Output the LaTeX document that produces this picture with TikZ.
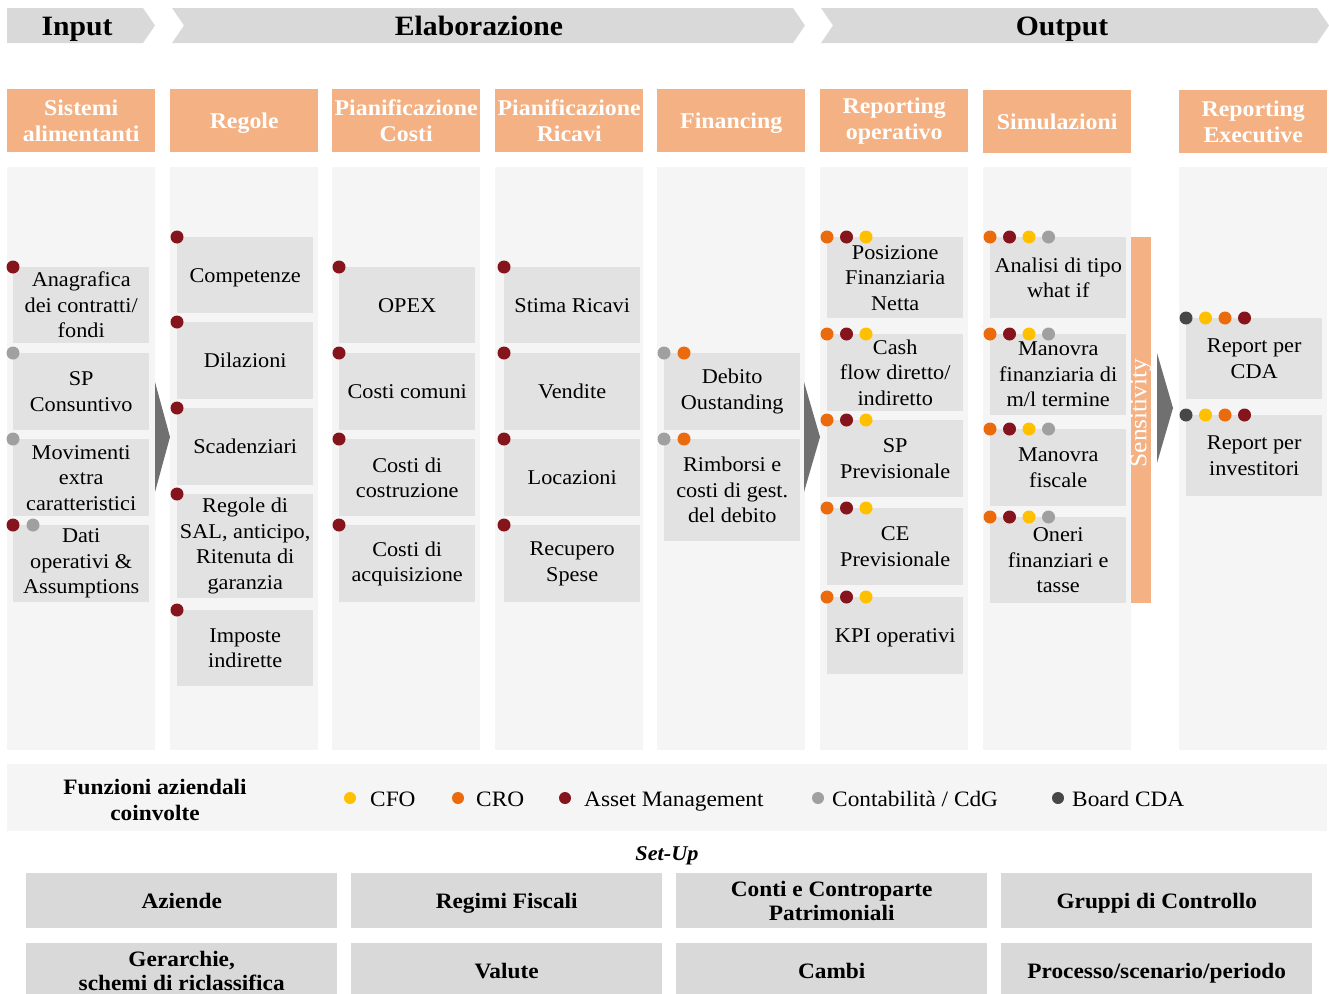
\documentclass[tikz,border=0pt]{standalone}
\usepackage{fontspec}
\setmainfont{Liberation Serif}[FakeStretch=1.06]
\definecolor{banner}{HTML}{D9D9D9}
\definecolor{hdr}{HTML}{F4B183}
\definecolor{colbg}{HTML}{F5F5F5}
\definecolor{itembg}{HTML}{E2E2E2}
\definecolor{maroon}{HTML}{85141C}
\definecolor{orng}{HTML}{EB6A0C}
\definecolor{yell}{HTML}{FFC000}
\definecolor{grey}{HTML}{A0A0A0}
\definecolor{dark}{HTML}{474747}
\definecolor{arrowgrey}{HTML}{707070}
\definecolor{setupbg}{HTML}{D9D9D9}
\tikzset{
  hdrbox/.style={fill=hdr, draw=none, anchor=north west, minimum width=148pt, minimum height=63pt, inner sep=0pt, align=center, text=white, font=\fontsize{22.5}{26}\selectfont\bfseries},
  bodybox/.style={fill=colbg, draw=none, anchor=north west, minimum width=148pt, minimum height=583pt, inner sep=0pt},
  item/.style={fill=itembg, draw=none, anchor=north west, minimum width=136pt, inner sep=0pt, align=center, font=\fontsize{21}{25.5}\selectfont},
  single/.style={text depth=0pt},
  dot/.style={circle, draw=none, minimum size=13pt, inner sep=0pt},
  ldot/.style={circle, draw=none, minimum size=12pt, inner sep=0pt},
  bannertext/.style={font=\fontsize{28}{30}\selectfont\bfseries, inner sep=0pt, anchor=base},
  setup/.style={fill=setupbg, draw=none, anchor=north west, minimum width=311pt, minimum height=55pt, inner sep=0pt, align=center, font=\fontsize{22}{24}\selectfont\bfseries},
  legtext/.style={anchor=base west, inner sep=0pt, font=\fontsize{22}{25}\selectfont},
  tri/.style={fill=arrowgrey, draw=none}
}
\begin{document}
\begin{tikzpicture}[x=1pt, y=-1pt]
\useasboundingbox (0,0) rectangle (1329,993);
\clip (0,0) rectangle (1329,993);
% banners
\fill[banner] (7,8) -- (143,8) -- (155,25.5) -- (143,43) -- (7,43) -- cycle;
\fill[banner] (172,8) -- (793,8) -- (805,25.5) -- (793,43) -- (172,43) -- (184,25.5) -- cycle;
\fill[banner] (821,8) -- (1317,8) -- (1329,25.5) -- (1317,43) -- (821,43) -- (833,25.5) -- cycle;
\node[bannertext] (tin) at (77,35) {Input};
\node[bannertext] (tel) at (479,35) {Elaborazione};
\node[bannertext] (tout) at (1062,35) {Output};
% headers
\node[hdrbox] (hd1) at (7,89) {Sistemi\\alimentanti};
\node[hdrbox, single] (hd2) at (170,89) {Regole};
\node[hdrbox] (hd3) at (332,89) {Pianificazione\\Costi};
\node[hdrbox] (hd4) at (495,89) {Pianificazione\\Ricavi};
\node[hdrbox, single] (hd5) at (657,89) {Financing};
\node[hdrbox] (hd6) at (820,89) {Reporting\\operativo};
\node[hdrbox, single] (hd7) at (983,90) {Simulazioni};
\node[hdrbox] (hd8) at (1179,90) {Reporting\\Executive};
% bodies
\node[bodybox] (bd1) at (7,167) {};
\node[bodybox] (bd2) at (170,167) {};
\node[bodybox] (bd3) at (332,167) {};
\node[bodybox] (bd4) at (495,167) {};
\node[bodybox] (bd5) at (657,167) {};
\node[bodybox] (bd6) at (820,167) {};
\node[bodybox] (bd7) at (983,167) {};
\node[bodybox] (bd8) at (1179,167) {};
% arrows
\fill[tri] (155,382) -- (170,437) -- (155,492) -- cycle;
\fill[tri] (804,382) -- (820,437) -- (804,492) -- cycle;
\fill[tri] (1157,353) -- (1173,408) -- (1157,463) -- cycle;
% column 1
\node[item, minimum height=76pt] (a1) at (13,267) {Anagrafica\\dei contratti/\\fondi};
\node[item, minimum height=77pt] (a2) at (13,353) {SP\\Consuntivo};
\node[item, minimum height=77pt] (a3) at (13,439) {Movimenti\\extra\\caratteristici};
\node[item, minimum height=77pt] (a4) at (13,525) {Dati\\operativi \&\\Assumptions};
\node[dot, fill=maroon] (a1d1) at (a1.north west) {};
\node[dot, fill=grey] (a2d1) at (a2.north west) {};
\node[dot, fill=grey] (a3d1) at (a3.north west) {};
\node[dot, fill=maroon] (a4d1) at (a4.north west) {};
\node[dot, fill=grey, xshift=20pt] (a4d2) at (a4.north west) {};
% column 2
\node[item, single, minimum height=76pt] (b1) at (177,237) {Competenze};
\node[item, single, minimum height=77pt] (b2) at (177,322) {Dilazioni};
\node[item, single, minimum height=77pt] (b3) at (177,408) {Scadenziari};
\node[item, minimum height=104pt] (b4) at (177,494) {Regole di\\SAL, anticipo,\\Ritenuta di\\garanzia};
\node[item, minimum height=76pt] (b5) at (177,610) {Imposte\\indirette};
\foreach \n in {b1,b2,b3,b4,b5} {\node[dot, fill=maroon] (\n d1) at (\n.north west) {};}
% column 3
\node[item, single, minimum height=76pt] (c1) at (339,267) {OPEX};
\node[item, single, minimum height=77pt] (c2) at (339,353) {Costi comuni};
\node[item, minimum height=77pt] (c3) at (339,439) {Costi di\\costruzione};
\node[item, minimum height=77pt] (c4) at (339,525) {Costi di\\acquisizione};
\foreach \n in {c1,c2,c3,c4} {\node[dot, fill=maroon] (\n d1) at (\n.north west) {};}
% column 4
\node[item, single, minimum height=76pt] (d1) at (504,267) {Stima Ricavi};
\node[item, single, minimum height=77pt] (d2) at (504,353) {Vendite};
\node[item, single, minimum height=77pt] (d3) at (504,439) {Locazioni};
\node[item, minimum height=77pt] (d4) at (504,525) {Recupero\\Spese};
\foreach \n in {d1,d2,d3,d4} {\node[dot, fill=maroon] (\n d1) at (\n.north west) {};}
% column 5
\node[item, minimum height=77pt] (e1) at (664,353) {Debito\\Oustanding};
\node[item, minimum height=102pt] (e2) at (664,439) {Rimborsi e\\costi di gest.\\del debito};
\foreach \n in {e1,e2} {
  \node[dot, fill=grey] (\n d1) at (\n.north west) {};
  \node[dot, fill=orng, xshift=20pt] (\n d2) at (\n.north west) {};
}
% column 6
\node[item, minimum height=81pt] (f1) at (827,237) {Posizione\\Finanziaria\\Netta};
\node[item, minimum height=77pt] (f2) at (827,334) {Cash\\flow diretto/\\indiretto};
\node[item, minimum height=77pt] (f3) at (827,420) {SP\\Previsionale};
\node[item, minimum height=77pt] (f4) at (827,508) {CE\\Previsionale};
\node[item, single, minimum height=77pt] (f5) at (827,597) {KPI operativi};
\foreach \n in {f1,f2,f3,f4,f5} {
  \node[dot, fill=orng] (\n d1) at (\n.north west) {};
  \node[dot, fill=maroon, xshift=19.5pt] (\n d2) at (\n.north west) {};
  \node[dot, fill=yell, xshift=39pt] (\n d3) at (\n.north west) {};
}
% column 7
\node[item, minimum height=81pt] (g1) at (990,237) {Analisi di tipo\\what if};
\node[item, minimum height=81pt] (g2) at (990,334) {Manovra\\finanziaria di\\m/l termine};
\node[item, minimum height=77pt] (g3) at (990,429) {Manovra\\fiscale};
\node[item, minimum height=86pt] (g4) at (990,517) {Oneri\\finanziari e\\tasse};
\foreach \n in {g1,g2,g3,g4} {
  \node[dot, fill=orng] (\n d1) at (\n.north west) {};
  \node[dot, fill=maroon, xshift=19.5pt] (\n d2) at (\n.north west) {};
  \node[dot, fill=yell, xshift=39pt] (\n d3) at (\n.north west) {};
  \node[dot, fill=grey, xshift=58.5pt] (\n d4) at (\n.north west) {};
}
\node[fill=hdr, draw=none, anchor=north west, minimum width=20pt, minimum height=366pt, inner sep=0pt] (sens) at (1131,237) {};
\node[rotate=90, text=white, inner sep=0pt, font=\fontsize{24}{26}\selectfont] (senst) at (1141,413) {Sensitivity};
% column 8
\node[item, minimum height=81pt] (h1) at (1186,318) {Report per\\CDA};
\node[item, minimum height=81pt] (h2) at (1186,415) {Report per\\investitori};
\foreach \n in {h1,h2} {
  \node[dot, fill=dark] (\n d1) at (\n.north west) {};
  \node[dot, fill=yell, xshift=19.5pt] (\n d2) at (\n.north west) {};
  \node[dot, fill=orng, xshift=39pt] (\n d3) at (\n.north west) {};
  \node[dot, fill=maroon, xshift=58.5pt] (\n d4) at (\n.north west) {};
}
% legend
\node[fill=colbg, draw=none, anchor=north west, minimum width=1320pt, minimum height=67pt, inner sep=0pt] (leg) at (7,764) {};
\node[align=center, inner sep=0pt, font=\fontsize{22}{26}\selectfont\bfseries] (legt) at (155,800) {Funzioni aziendali\\coinvolte};
\node[ldot, fill=yell] (l1) at (350,798) {};
\node[legtext] (l1t) at (370,806) {CFO};
\node[ldot, fill=orng] (l2) at (458,798) {};
\node[legtext] (l2t) at (476,806) {CRO};
\node[ldot, fill=maroon] (l3) at (565,798) {};
\node[legtext] (l3t) at (584,806) {Asset Management};
\node[ldot, fill=grey] (l4) at (818,798) {};
\node[legtext] (l4t) at (832,806) {Contabilità / CdG};
\node[ldot, fill=dark] (l5) at (1058,798) {};
\node[legtext] (l5t) at (1072,806) {Board CDA};
% set-up
\node[inner sep=0pt, anchor=base, font=\fontsize{21}{24}\selectfont\bfseries\itshape] (setupt) at (667,860) {Set-Up};
\node[setup] (s1) at (26,873) {Aziende};
\node[setup, single] (s2) at (351,873) {Regimi Fiscali};
\node[setup] (s3) at (676,873) {Conti e Controparte\\Patrimoniali};
\node[setup, single] (s4) at (1001,873) {Gruppi di Controllo};
\node[setup] (s5) at (26,943) {Gerarchie,\\schemi di riclassifica};
\node[setup] (s6) at (351,943) {Valute};
\node[setup] (s7) at (676,943) {Cambi};
\node[setup, single] (s8) at (1001,943) {Processo/scenario/periodo};
\end{tikzpicture}
\end{document}
